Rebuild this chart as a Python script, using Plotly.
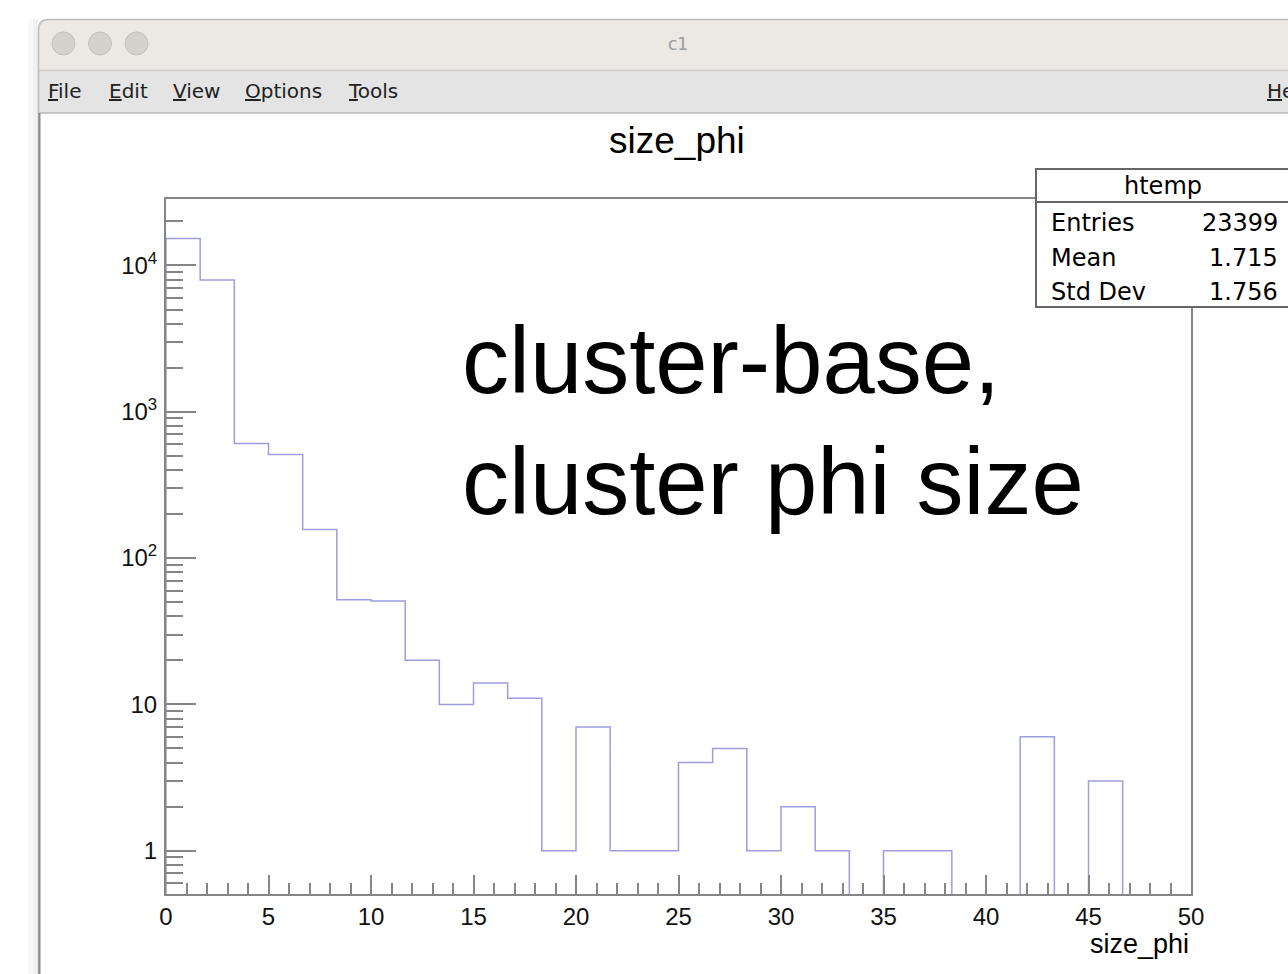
import plotly.graph_objects as go

# ---------------- data ----------------
bin_edges = [0.0, 1.6667, 3.3333, 5.0, 6.6667, 8.3333, 10.0, 11.6667, 13.3333, 15.0,
             16.6667, 18.3333, 20.0, 21.6667, 23.3333, 25.0, 26.6667, 28.3333, 30.0,
             31.6667, 33.3333, 35.0, 36.6667, 38.3333, 40.0, 41.6667, 43.3333, 45.0,
             46.6667, 48.3333, 50.0]
bin_counts = [15300, 7950, 607, 510, 157, 52, 51, 20, 10, 14, 11, 1, 7, 1, 1,
              4, 5, 1, 2, 1, 0, 1, 1, 0, 0, 6, 0, 3, 0, 0]

y_tick_vals = [1, 10, 100, 1000, 10000]
y_tick_text = ["1", "10", "10<sup>2</sup>", "10<sup>3</sup>", "10<sup>4</sup>"]
y_minor_vals = [m * d for d in [0.1, 1, 10, 100, 1000, 10000] for m in range(2, 10)]

stats_title = "htemp"
stats_names = ["Entries", "Mean", "Std Dev"]
stats_values = ["23399", "1.715", "1.756"]

menu_items = ["<u>F</u>ile", "<u>E</u>dit", "<u>V</u>iew", "<u>O</u>ptions", "<u>T</u>ools", "<u>H</u>elp"]
menu_x = [46, 107, 171, 243, 346, 1265]

# ---------------- geometry ----------------
W, H = 1288, 974
L, R, T, B = 166, 1191, 199, 894   # plot frame in pixels


def px(x):
    return (x - L) / (R - L)


def py(y):
    return (B - y) / (B - T)


FLOOR = 1e-3
step_x = [bin_edges[0]] + bin_edges
step_y = [FLOOR] + [c if c > 0 else FLOOR for c in bin_counts] + [bin_counts[-1] if bin_counts[-1] > 0 else FLOOR]

fig = go.Figure()
fig.add_trace(go.Scatter(
    x=step_x, y=step_y, mode="lines", line_shape="hv",
    line=dict(color="#9d9de0", width=1.5), hoverinfo="skip", showlegend=False,
))

AX = "#858585"
fig.update_layout(
    width=W, height=H,
    margin=dict(l=L, r=W - R, t=T, b=H - B, pad=0),
    paper_bgcolor="white", plot_bgcolor="white",
    showlegend=False,
    xaxis=dict(
        range=[0, 50], showgrid=False, zeroline=False,
        showline=True, linecolor=AX, linewidth=2, mirror=True,
        ticks="inside", tickmode="linear", tick0=0, dtick=5, ticklen=19, tickwidth=2, tickcolor=AX,
        minor=dict(ticks="inside", dtick=1, tick0=0, ticklen=11, tickwidth=2, tickcolor=AX, showgrid=False),
        tickfont=dict(family="Liberation Sans", size=24, color="#111"),
        ticklabelstandoff=0,
    ),
    yaxis=dict(
        type="log", range=[-0.296, 4.4545], showgrid=False, zeroline=False,
        showline=True, linecolor=AX, linewidth=2, mirror=True,
        ticks="inside", tickmode="array", tickvals=y_tick_vals, ticktext=y_tick_text,
        ticklen=30, tickwidth=2, tickcolor=AX,
        minor=dict(ticks="inside", tickmode="array", tickvals=y_minor_vals, ticklen=17,
                   tickwidth=2, tickcolor=AX, showgrid=False),
        tickfont=dict(family="Liberation Sans", size=24, color="#111"),
        ticklabelstandoff=2,
    ),
)

shapes = []


def rect(x0, y0, x1, y1, fill, line=None, lw=0, layer="below"):
    shapes.append(dict(type="rect", xref="paper", yref="paper",
                       x0=px(x0), x1=px(x1), y0=py(y1), y1=py(y0),
                       fillcolor=fill, line=dict(color=line or fill, width=lw), layer=layer))


def hline(x0, x1, y, color, lw, layer="below"):
    shapes.append(dict(type="line", xref="paper", yref="paper",
                       x0=px(x0), x1=px(x1), y0=py(y), y1=py(y),
                       line=dict(color=color, width=lw), layer=layer))


def vline(x, y0, y1, color, lw, layer="below"):
    shapes.append(dict(type="line", xref="paper", yref="paper",
                       x0=px(x), x1=px(x), y0=py(y0), y1=py(y1),
                       line=dict(color=color, width=lw), layer=layer))


def path(points, fill=None, line=None, lw=0, close=False, layer="below"):
    s = ""
    for i, p in enumerate(points):
        if p[0] == "Q":
            s += f" Q {px(p[1]):.5f},{py(p[2]):.5f} {px(p[3]):.5f},{py(p[4]):.5f}"
        else:
            s += (" M " if i == 0 else " L ") + f"{px(p[0]):.5f},{py(p[1]):.5f}"
    if close:
        s += " Z"
    d = dict(type="path", xref="paper", yref="paper", path=s.strip(), layer=layer,
             line=dict(color=line or "rgba(0,0,0,0)", width=lw))
    if fill:
        d["fillcolor"] = fill
    shapes.append(d)


# outside shadow
rect(28, 19, 38, 974, "#f9f9f9")
rect(33, 19, 38, 974, "#f1f1f1")
# title bar with rounded corner
path([(38, 70), (38, 30), ("Q", 38, 19, 49, 19), (1300, 19), (1300, 70)], fill="#ece8e4", close=True)
# menu bar
rect(39, 70, 1300, 113, "#e4e4e4")
hline(38, 1300, 70.5, "#cfcbc8", 1.5)
hline(39, 1300, 113, "#b9b9b9", 1.5)
# window border
path([(38.5, 974), (38.5, 30), ("Q", 38.5, 19.5, 49, 19.5), (1300, 19.5)], line="#bdbdbd", lw=1.5)
vline(39.5, 113, 974, "#8a8a8a", 2)
# traffic-light buttons
for cx in [63.5, 100, 136.5]:
    shapes.append(dict(type="circle", xref="paper", yref="paper",
                       x0=px(cx - 11.5), x1=px(cx + 11.5), y0=py(43.5 + 11.5), y1=py(43.5 - 11.5),
                       fillcolor="#d5d1cd", line=dict(color="#c3bfbb", width=1), layer="below"))

# stats box (above the frame)
rect(1036, 169, 1300, 307, "white", line="#666666", lw=2, layer="above")
hline(1036, 1300, 202, "#666666", 2, layer="above")

fig.update_layout(shapes=shapes)

ann = []


def text(x, y, s, size, family="Liberation Sans", color="#000", xanchor="left"):
    ann.append(dict(x=px(x), y=py(y), xref="paper", yref="paper", text=s, showarrow=False,
                    xanchor=xanchor, yanchor="middle",
                    font=dict(family=family, size=size, color=color)))


# window title and menu
text(678, 44, "c1", 17, family="DejaVu Sans", color="#9c9c9c", xanchor="center")
for s, x in zip(menu_items, menu_x):
    text(x, 91, s, 20, family="DejaVu Sans", color="#222")

# histogram title
text(677, 140, "size_phi", 37, xanchor="center")
# x axis title
text(1191, 944, "size_phi", 27, xanchor="right")

# stats box text
text(1163, 186.5, stats_title, 24, family="DejaVu Sans", xanchor="center")
for i, (n, v) in enumerate(zip(stats_names, stats_values)):
    yy = 223.4 + i * 34.2
    text(1049, yy, n, 24, family="DejaVu Sans")
    text(1280, yy, v, 24, family="DejaVu Sans", xanchor="right")

# big overlay note
text(460, 360.5, "cluster-base,", 94)
text(460, 481.1, "cluster phi size", 94)

fig.update_layout(annotations=ann)

fig.write_html("out.html")
